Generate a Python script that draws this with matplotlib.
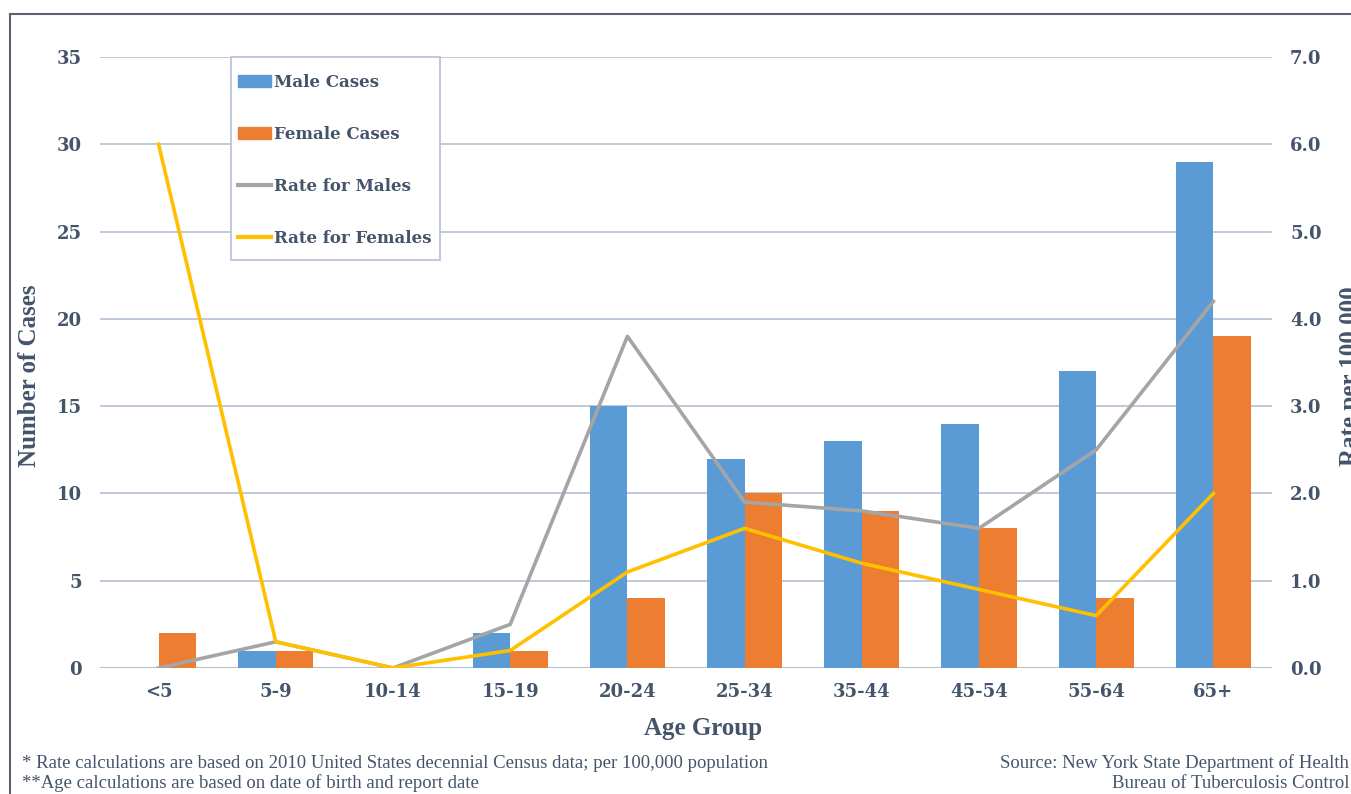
import matplotlib
matplotlib.use("Agg")
import matplotlib.pyplot as plt
import numpy as np
from matplotlib.lines import Line2D
from matplotlib.patches import Patch, Rectangle

categories = ["<5", "5-9", "10-14", "15-19", "20-24", "25-34", "35-44", "45-54", "55-64", "65+"]
male_cases = [0, 1, 0, 2, 15, 12, 13, 14, 17, 29]
female_cases = [2, 1, 0, 1, 4, 10, 9, 8, 4, 19]
male_rate = [0.0, 0.3, 0.0, 0.5, 3.8, 1.9, 1.8, 1.6, 2.5, 4.2]
female_rate = [6.0, 0.3, 0.0, 0.2, 1.1, 1.6, 1.2, 0.9, 0.6, 2.0]

left_ticks = [0, 5, 10, 15, 20, 25, 30, 35]
right_ticks = [0.0, 1.0, 2.0, 3.0, 4.0, 5.0, 6.0, 7.0]

TXT = "#44546A"
GRID = "#B4C0D3"
BLUE = "#5B9BD5"
ORANGE = "#ED7D31"
GRAY = "#A5A5A5"
GOLD = "#FFC000"
TICKFONT = "DejaVu Serif"
TITLEFONT = "Liberation Serif"

fig = plt.figure(figsize=(13.51, 7.94), dpi=100)
ax = fig.add_axes([100/1351, 1-668/794, (1272-100)/1351, (668-57)/794])
ax2 = ax.twinx()

x = np.arange(len(categories))
w = 0.32
ax.bar(x - w/2, male_cases, w, color=BLUE, zorder=2)
ax.bar(x + w/2, female_cases, w, color=ORANGE, zorder=2)
ax2.plot(x, male_rate, color=GRAY, lw=2.6, zorder=3)
ax2.plot(x, female_rate, color=GOLD, lw=2.6, zorder=3)

ax.set_xlim(-0.5, len(categories) - 0.5)
ax.set_ylim(0, 35)
ax2.set_ylim(0, 7)
ax.set_yticks(left_ticks)
ax2.set_yticks(right_ticks)
ax2.set_yticklabels([f"{v:.1f}" for v in right_ticks])
ax.set_xticks(x)
ax.set_xticklabels(categories)
ax.yaxis.grid(True, color=GRID, lw=1.2, zorder=0)
ax.set_axisbelow(True)

for a in (ax, ax2):
    for s in ("top", "left", "right", "bottom"):
        a.spines[s].set_visible(False)
    a.tick_params(length=0)
ax.axhline(0, color=GRID, lw=1.5, zorder=1)

for lab in ax.get_yticklabels() + ax.get_xticklabels() + ax2.get_yticklabels():
    lab.set_fontfamily(TICKFONT)
    lab.set_fontweight("bold")
    lab.set_fontsize(13)
    lab.set_color(TXT)
ax.tick_params(axis="y", pad=13)
ax2.tick_params(axis="y", pad=13)
ax.tick_params(axis="x", pad=11)

fig.text(30/1351, 1-376/794, "Number of Cases", rotation=90, ha="center", va="center",
         fontfamily=TITLEFONT, fontweight="bold", fontsize=18, color=TXT)
fig.text(1350/1351, 1-376/794, "Rate per 100,000", rotation=90, ha="center", va="center",
         fontfamily=TITLEFONT, fontweight="bold", fontsize=18, color=TXT)
fig.text(703/1351, 1-728/794, "Age Group", ha="center", va="center",
         fontfamily=TITLEFONT, fontweight="bold", fontsize=18, color=TXT)

# legend frame
lx0, lx1 = (231-100)/1172, (440-100)/1172
ly0, ly1 = (668-260)/611, 1.0
ax2.add_patch(Rectangle((lx0, ly0), lx1-lx0, ly1-ly0, transform=ax2.transAxes,
                        facecolor="white", edgecolor=GRID, lw=1.2, zorder=4, clip_on=False))

handles = [Patch(color=BLUE), Patch(color=ORANGE),
           Line2D([], [], color=GRAY, lw=3), Line2D([], [], color=GOLD, lw=3)]
labels = ["Male Cases", "Female Cases", "Rate for Males", "Rate for Females"]
leg = ax2.legend(handles, labels, loc="upper left",
                 bbox_to_anchor=((238-100)/1172, (668-74)/611),
                 borderaxespad=0, borderpad=0, frameon=False,
                 handlelength=1.95, handletextpad=0.18, labelspacing=2.1,
                 prop={"family": TICKFONT, "weight": "bold", "size": 12.0})
leg.set_zorder(5)
for t in leg.get_texts():
    t.set_color(TXT)

fs = 13.5
fig.text(22/1351, 1-763/794, "* Rate calculations are based on 2010 United States decennial Census data; per 100,000 population",
         ha="left", va="center", fontfamily=TITLEFONT, fontsize=fs, color=TXT)
fig.text(22/1351, 1-783/794, "**Age calculations are based on date of birth and report date",
         ha="left", va="center", fontfamily=TITLEFONT, fontsize=fs, color=TXT)
fig.text(1349/1351, 1-763/794, "Source: New York State Department of Health",
         ha="right", va="center", fontfamily=TITLEFONT, fontsize=fs, color=TXT)
fig.text(1349/1351, 1-783/794, "Bureau of Tuberculosis Control",
         ha="right", va="center", fontfamily=TITLEFONT, fontsize=fs, color=TXT)

BORDER = "#5A6270"
fig.add_artist(Line2D([10/1351, 10/1351], [0, 1-14/794], transform=fig.transFigure, color=BORDER, lw=1.5))
fig.add_artist(Line2D([10/1351, 1], [1-14/794, 1-14/794], transform=fig.transFigure, color=BORDER, lw=1.5))

fig.savefig("out.png", dpi=100)
